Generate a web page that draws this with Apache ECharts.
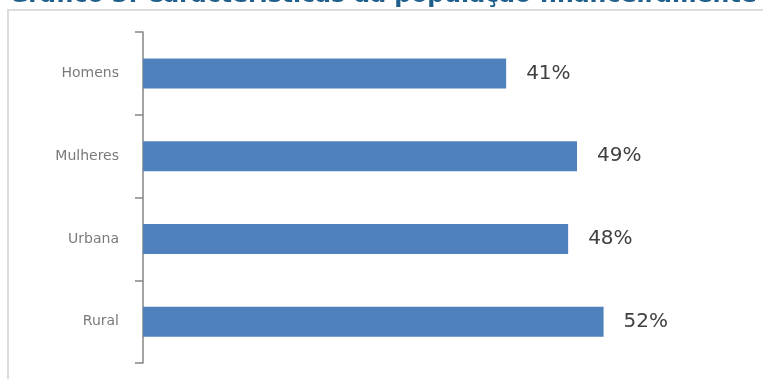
<!DOCTYPE html>
<html>
<head>
<meta charset="utf-8">
<script src="https://cdn.jsdelivr.net/npm/echarts@6/dist/echarts.min.js"></script>
<style>html,body{margin:0;padding:0;background:#fff;}#c{width:763px;height:379px;}</style>
</head>
<body>
<div id="c"></div>
<script>
const titleText = 'Gráfico 3: Características da população financeiramente';
const categories = ['Homens', 'Mulheres', 'Urbana', 'Rural'];
const values = [0.41, 0.49, 0.48, 0.52];

const chart = echarts.init(document.getElementById('c'), null, {renderer: 'canvas'});
chart.setOption({
  animation: false,
  backgroundColor: '#ffffff',
  title: {
    text: titleText,
    left: 9,
    top: -16,
    padding: 0,
    textStyle: {fontFamily: 'DejaVu Sans', fontWeight: 'bold', fontSize: 23.6, color: '#1F5F8B'}
  },
  graphic: [{
    type: 'rect',
    shape: {x: 8, y: 10, width: 800, height: 400},
    style: {fill: 'none', stroke: '#dcdcdc', lineWidth: 2},
    silent: true, z: -1
  }],
  grid: {left: 143, right: 0, top: 32, bottom: 16, containLabel: false},
  xAxis: {
    type: 'value', min: 0, max: 0.7, show: false
  },
  yAxis: {
    type: 'category', data: categories, inverse: true,
    axisLine: {show: true, lineStyle: {color: '#868686', width: 1.5}},
    axisTick: {show: true, length: 8, lineStyle: {color: '#868686', width: 1.5}},
    axisLabel: {margin: 24, color: '#7a7a7a', fontFamily: 'DejaVu Sans', fontSize: 14}
  },
  series: [{
    type: 'bar', data: values, barWidth: 30,
    itemStyle: {color: '#4F81BD'},
    label: {
      show: true, position: 'right', distance: 20,
      formatter: p => Math.round(p.value * 100) + '%',
      color: '#404040', fontFamily: 'DejaVu Sans', fontSize: 20
    }
  }]
});
</script>
</body>
</html>
